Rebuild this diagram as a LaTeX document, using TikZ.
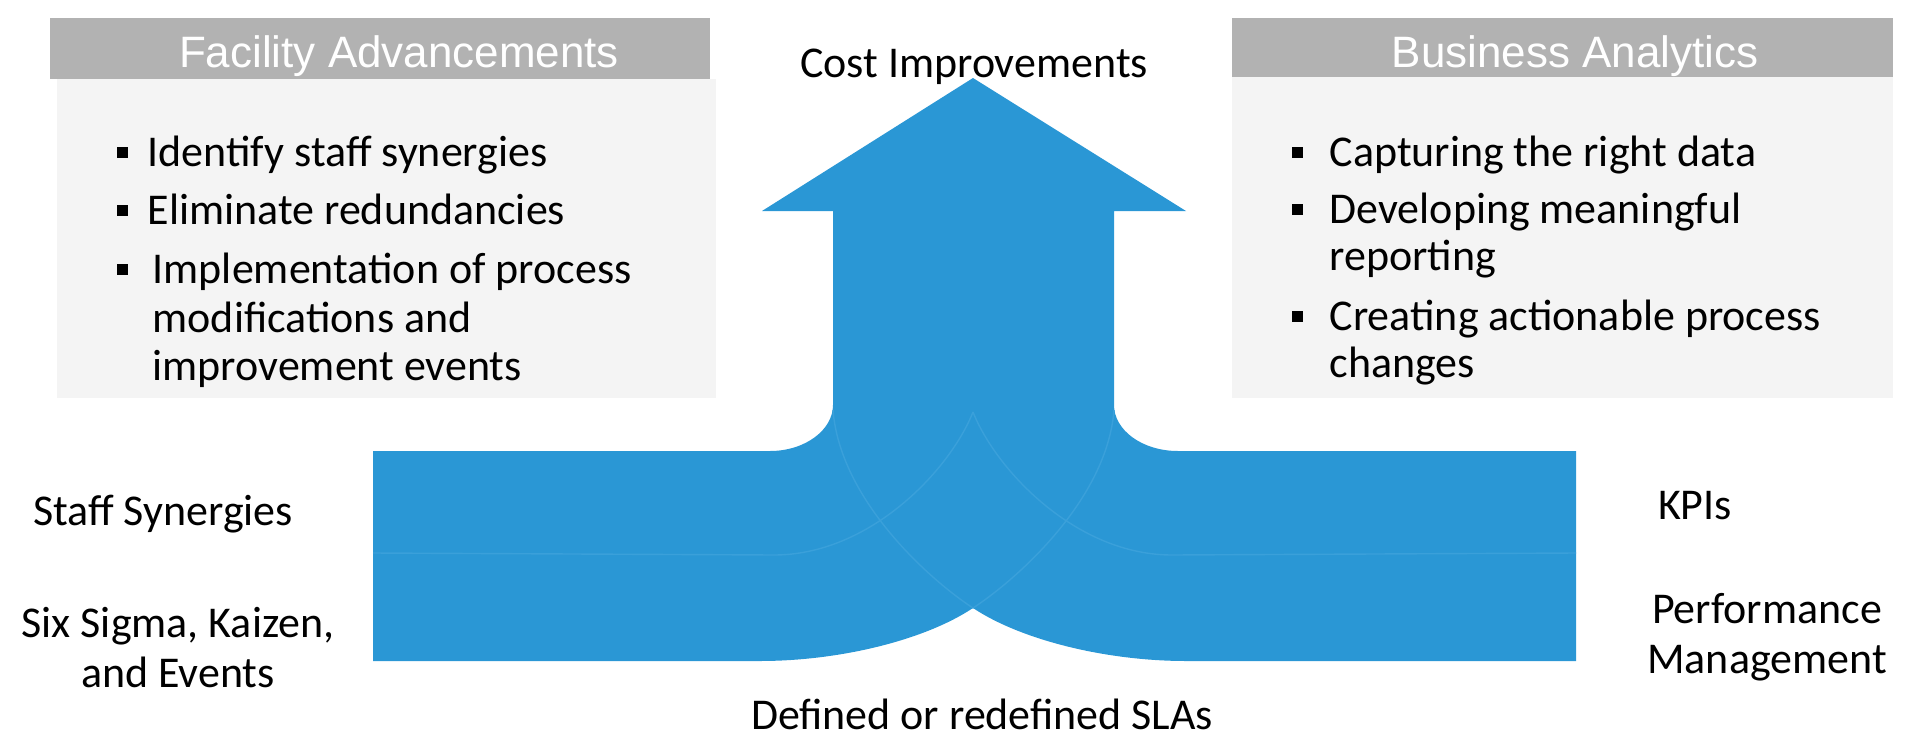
\documentclass[tikz,border=0pt]{standalone}
\usepackage{fontspec}
\setmainfont{Carlito}
\newfontfamily\hdrfont{Liberation Sans}
\definecolor{arrowblue}{RGB}{42,151,213}
\definecolor{seamblue}{RGB}{58,160,218}
\definecolor{hdrgray}{RGB}{178,178,178}
\definecolor{boxgray}{RGB}{244,244,244}

\tikzset{
  sidelabel/.style={font=\fontsize{12.5}{14.2}\selectfont, anchor=base, inner sep=0pt},
  hdrtext/.style={font=\hdrfont\fontsize{12.5}{14}\selectfont, text=white, anchor=base, inner sep=0pt},
  itemtext/.style={font=\fontsize{12.5}{13.66}\selectfont, anchor=base west, inner sep=0pt},
  seam/.style={draw=seamblue, line width=0.4pt},
}

\begin{document}
\begin{tikzpicture}[x=0.01cm, y=-0.01cm]
   \useasboundingbox (0,0) rectangle (1920,751);

   % the two boxes
   \fill[boxgray] (57,79) rectangle (716,398);
   \fill[hdrgray] (50,18) rectangle (710,79);
   \fill[boxgray] (1232,77) rectangle (1893,398);
   \fill[hdrgray] (1232,18) rectangle (1893,77);

   \node[hdrtext] (facility) at (399,67) {Facility Advancements};
   \node[hdrtext] (business) at (1575,67) {Business Analytics};

   \node[itemtext] (fa1) at (147,166) {Identify staff synergies};
   \node[itemtext] (fa2) at (147,224) {Eliminate redundancies};
   \node[itemtext] (fa3) at (152,283) {Implementation of process};
   \node[itemtext] (fa3b) at (152,332) {modifications and};
   \node[itemtext] (fa3c) at (152,380) {improvement events};

   \node[itemtext] (ba1) at (1329,166) {Capturing the right data};
   \node[itemtext] (ba2) at (1329,223) {Developing meaningful};
   \node[itemtext] (ba2b) at (1329,270) {reporting};
   \node[itemtext] (ba3) at (1329,330) {Creating actionable process};
   \node[itemtext] (ba3b) at (1329,377) {changes};

   % bullets
   \foreach \y in {166,224,283} {
     \fill (117,\y-19) rectangle (128,\y-8);
   }
   \foreach \y in {166,223,330} {
     \fill (1292,\y-19) rectangle (1303,\y-8);
   }

   % the merged arrow
   \fill[arrowblue] (373,451) -- (770,451)
      .. controls (805,451) and (833,430) .. (833,405) -- (833,211)
      -- (762,211) -- (973,78) -- (1186,211) -- (1114,211) -- (1114,405)
      .. controls (1114,430) and (1142,451) .. (1178,451) -- (1576,451)
      -- (1576,661) -- (1186,661)
      .. controls (1106,661) and (1021,640) .. (973,608)
      .. controls (925,640) and (840,661) .. (760,661) -- (373,661) -- cycle;
   \draw[seam] (373,553) -- (774,555) .. controls (870,555) and (950,470) .. (973,412);
   \draw[seam] (1576,553) -- (1172,555) .. controls (1076,555) and (996,470) .. (973,412);
   \draw[seam] (833,410) .. controls (840,500) and (930,580) .. (973,608);
   \draw[seam] (1114,410) .. controls (1107,500) and (1016,580) .. (973,608);

   % labels round the arrow
   \node[sidelabel] (cost) at (974,77) {Cost Improvements};
   \node[sidelabel] (sla) at (982,729) {Defined or redefined SLAs};
   \node[sidelabel] (staff) at (163,525) {Staff Synergies};
   \node[sidelabel] (sigma) at (178,637) {Six Sigma, Kaizen,};
   \node[sidelabel] (sigmab) at (178,687) {and Events};
   \node[sidelabel] (kpi) at (1695,519) {KPIs};
   \node[sidelabel] (perf) at (1767,623) {Performance};
   \node[sidelabel] (perfb) at (1767,673) {Management};
\end{tikzpicture}
\end{document}
